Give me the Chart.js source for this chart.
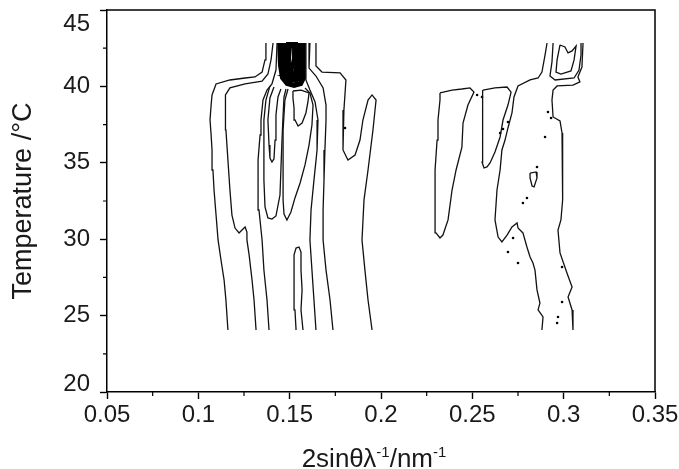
<!DOCTYPE html>
<html>
<head>
<meta charset="utf-8">
<script src="https://cdn.jsdelivr.net/npm/chart.js@4.4.1/dist/chart.umd.min.js"></script>
<style>
html,body{margin:0;padding:0;background:#fff;}
</style>
</head>
<body>
<canvas id="c" width="679" height="469"></canvas>
<script>
// axes
const xTicks = [0.05, 0.1, 0.15, 0.2, 0.25, 0.3, 0.35];
const xTickLabels = ['0.05', '0.1', '0.15', '0.2', '0.25', '0.3', '0.35'];
const xMinor = [0.075, 0.125, 0.175, 0.225, 0.275, 0.325];
const yTicks = [20, 25, 30, 35, 40, 45];
const yTickLabels = ['20', '25', '30', '35', '40', '45'];
const yMinor = [22.5, 27.5, 32.5, 37.5, 42.5];
const xTitle = ['2sinθλ', '-1', '/nm', '-1'];
const yTitle = 'Temperature /°C';

// contour lines, [2sinθ/λ, T]
// left group (peak near 0.15)
const c1L = [[0.1162,24.06],[0.1151,26.02],[0.1141,27.33],[0.1124,28.64],[0.1108,29.95],[0.1097,31.58],[0.1086,33.22],[0.1080,34.53],[0.1075,35.84],[0.1070,36.82],[0.1064,37.80],[0.1070,38.78],[0.1075,39.44],[0.1097,40.16],[0.1173,40.42],[0.1256,40.55],[0.1310,40.62],[0.1349,40.94],[0.1365,41.73],[0.1370,42.84]];
const c1R = [[0.1644,42.84],[0.1644,41.34],[0.1677,40.94],[0.1776,40.88],[0.1808,40.42],[0.1797,38.46],[0.1792,35.84],[0.1819,35.18],[0.1858,35.51],[0.1885,36.49],[0.1901,37.80],[0.1929,39.11],[0.1951,39.44],[0.1973,39.11],[0.1956,37.15],[0.1929,34.53],[0.1907,32.57],[0.1896,29.95],[0.1912,27.98],[0.1929,26.02],[0.1951,24.06]];
const c2L = [[0.1316,24.06],[0.1305,26.02],[0.1294,27.33],[0.1278,28.97],[0.1266,29.95],[0.1266,30.47],[0.1256,30.80],[0.1239,30.60],[0.1223,30.41],[0.1201,30.73],[0.1184,31.58],[0.1173,33.22],[0.1162,35.18],[0.1151,37.15],[0.1146,38.46],[0.1151,39.44],[0.1173,39.90],[0.1256,40.16],[0.1349,40.35],[0.1381,40.81],[0.1398,41.73],[0.1409,42.84]];
const c2R = [[0.1611,42.84],[0.1606,41.20],[0.1644,40.68],[0.1683,39.90],[0.1699,38.78],[0.1699,37.80],[0.1693,35.84],[0.1688,33.87],[0.1683,31.91],[0.1683,29.95],[0.1699,27.98],[0.1721,26.02],[0.1737,24.06]];
const c3L = [[0.1387,24.06],[0.1376,26.02],[0.1359,27.98],[0.1349,29.95],[0.1332,31.91],[0.1327,33.42],[0.1327,35.18],[0.1338,36.82],[0.1343,37.80],[0.1354,39.11],[0.1376,39.76],[0.1403,40.16],[0.1425,41.07],[0.1431,42.84]];
const c3R = [[0.1589,42.84],[0.1589,40.42],[0.1611,39.76],[0.1639,38.98],[0.1655,37.80],[0.1650,35.84],[0.1633,33.87],[0.1617,31.91],[0.1611,29.95],[0.1622,27.98],[0.1633,26.02],[0.1644,24.06]];
const u1 = [[0.1392,40.03],[0.1370,39.11],[0.1359,37.80],[0.1359,35.84],[0.1359,33.87],[0.1365,32.11],[0.1381,31.39],[0.1403,31.32],[0.1425,31.52],[0.1447,32.89],[0.1452,34.53],[0.1458,36.49],[0.1464,38.13],[0.1469,39.31],[0.1480,39.83]];
const nU = [[0.1414,39.96],[0.1392,39.24],[0.1381,37.80],[0.1387,36.16],[0.1392,35.31],[0.1403,35.05],[0.1414,35.25],[0.1420,36.49],[0.1425,38.13],[0.1436,39.31],[0.1452,39.83]];
const u2 = [[0.1491,39.83],[0.1474,39.11],[0.1464,37.15],[0.1464,34.53],[0.1464,32.57],[0.1469,31.65],[0.1485,31.26],[0.1507,31.78],[0.1529,32.70],[0.1557,33.68],[0.1584,34.86],[0.1606,36.16],[0.1622,37.47],[0.1628,38.78],[0.1611,39.57],[0.1584,39.90]];
const loop = [[0.1518,39.70],[0.1562,39.76],[0.1606,39.57],[0.1600,38.98],[0.1589,38.26],[0.1568,37.60],[0.1546,37.41],[0.1529,37.80],[0.1524,38.59],[0.1518,39.24],[0.1518,39.70]];
const spike = [[0.1535,24.06],[0.1529,25.37],[0.1524,26.68],[0.1524,27.98],[0.1524,28.97],[0.1535,29.42],[0.1551,29.49],[0.1562,29.16],[0.1562,27.98],[0.1568,26.68],[0.1562,25.37],[0.1573,24.06]];
// dense rings of the peak
const b1 = [[0.1442,42.84],[0.1447,41.40],[0.1458,40.55],[0.1485,40.16],[0.1524,40.03],[0.1562,40.16],[0.1578,40.55],[0.1578,41.73],[0.1578,42.84]];
const b2 = [[0.1452,42.84],[0.1458,41.40],[0.1469,40.68],[0.1496,40.22],[0.1529,40.09],[0.1557,40.22],[0.1568,40.68],[0.1568,42.84]];
const b3 = [[0.1464,42.84],[0.1469,41.53],[0.1480,40.81],[0.1502,40.42],[0.1535,40.35],[0.1551,40.55],[0.1557,41.20],[0.1557,42.84]];
const b4 = [[0.1469,42.84],[0.1474,41.60],[0.1485,40.94],[0.1507,40.62],[0.1535,40.62],[0.1546,41.07],[0.1546,42.84]];
const b5 = [[0.1480,42.77],[0.1535,42.77],[0.1535,41.20],[0.1524,40.75],[0.1502,40.75],[0.1485,41.20],[0.1480,42.05],[0.1480,42.77]];
const b6 = [[0.1502,42.64],[0.1529,42.64],[0.1524,41.86],[0.1507,40.88],[0.1491,40.81],[0.1496,41.73],[0.1502,42.64]];
// right group (peak near 0.30)
const R1 = [[0.2323,39.57],[0.2389,39.76],[0.2443,39.83],[0.2487,39.90],[0.2509,39.63],[0.2476,38.78],[0.2449,37.60],[0.2443,36.03],[0.2411,34.53],[0.2389,33.22],[0.2367,31.26],[0.2339,30.27],[0.2323,30.08],[0.2301,30.41],[0.2296,32.57],[0.2296,34.53],[0.2307,36.49],[0.2312,37.80],[0.2323,39.11],[0.2323,39.57]];
const R2 = [[0.2558,39.76],[0.2624,39.90],[0.2690,39.96],[0.2712,39.63],[0.2695,38.78],[0.2668,37.80],[0.2652,36.69],[0.2624,35.71],[0.2597,34.99],[0.2580,34.73],[0.2564,34.66],[0.2553,35.05],[0.2553,36.49],[0.2558,38.26],[0.2558,39.76]];
const R3L = [[0.2881,24.06],[0.2887,24.91],[0.2860,25.37],[0.2870,25.82],[0.2854,26.68],[0.2843,27.98],[0.2832,28.44],[0.2816,28.84],[0.2799,29.49],[0.2777,30.41],[0.2761,30.60],[0.2750,30.73],[0.2745,31.06],[0.2717,30.80],[0.2690,30.27],[0.2662,29.82],[0.2641,30.14],[0.2624,31.26],[0.2635,33.22],[0.2652,34.53],[0.2662,35.84],[0.2679,36.49],[0.2695,37.28],[0.2717,38.26],[0.2728,39.31],[0.2750,40.03],[0.2816,40.42],[0.2860,40.55],[0.2881,40.94],[0.2898,42.05],[0.2909,42.84]];
const R3R = [[0.3106,42.84],[0.3100,41.27],[0.3078,40.62],[0.3089,40.29],[0.3051,40.09],[0.2964,40.03],[0.2942,39.76],[0.2936,39.11],[0.2942,38.00],[0.2980,37.74],[0.2991,36.95],[0.2996,35.84],[0.2991,34.53],[0.2996,32.57],[0.2985,31.26],[0.2969,30.60],[0.2980,29.10],[0.3018,27.79],[0.3046,26.87],[0.3024,26.22],[0.3046,25.37],[0.3051,24.06]];
const R4 = [[0.2942,42.84],[0.2936,41.60],[0.2925,40.68],[0.2953,40.42],[0.3057,40.55],[0.3084,41.07],[0.3095,42.05],[0.3095,42.84]];
const R5 = [[0.2980,42.71],[0.2964,41.73],[0.2958,40.94],[0.2985,40.81],[0.3040,41.01],[0.3057,41.73],[0.3068,42.64],[0.3046,42.32],[0.3024,42.19],[0.3007,42.58],[0.2980,42.71]];
const drop = [[0.2816,34.33],[0.2849,34.40],[0.2854,34.01],[0.2838,33.42],[0.2827,33.48],[0.2816,34.01],[0.2816,34.33]];
const dots = [[0.2526,39.44],[0.2553,39.31],[0.2668,37.21],[0.2695,37.67],[0.2652,36.95],[0.2914,38.32],[0.2931,37.93],[0.2898,36.69],[0.2854,34.73],[0.2777,32.37],[0.2799,32.70],[0.2723,30.08],[0.2695,29.16],[0.2750,28.44],[0.2991,28.18],[0.2991,25.89],[0.2969,24.91],[0.2964,24.52],[0.1803,37.28]];

const lineSets = [c1L, c1R, c2L, c2R, c3L, c3R, u1, nU, u2, loop, spike, R1, R2, R3L, R3R, R4, R5, drop];
const peakSets = [b1, b2, b3, b4, b5, b6];
const FONT = '"Liberation Sans", Arial, sans-serif';
const INK = '#1a1a1a';

const toXY = a => a.map(p => ({x: p[0], y: p[1]}));

const datasets = lineSets.map(a => ({
  data: toXY(a), showLine: true, borderColor: '#111', borderWidth: 1.3,
  pointRadius: 0, tension: 0, fill: false
})).concat(peakSets.map(a => ({
  data: toXY(a), showLine: true, borderColor: '#000', borderWidth: 4,
  pointRadius: 0, tension: 0, fill: false
}))).concat([{
  data: toXY(dots), showLine: false, pointRadius: 1.3,
  backgroundColor: '#000', borderWidth: 0
}]);

const frame = {
  id: 'frame',
  afterDraw(chart) {
    const {ctx, chartArea: a, scales: {x, y}} = chart;
    ctx.save();
    ctx.strokeStyle = '#000';
    ctx.lineWidth = 1.5;
    ctx.beginPath();
    ctx.moveTo(a.left, a.top);
    ctx.lineTo(a.right, a.top);
    ctx.lineTo(a.right, a.bottom);
    ctx.stroke();
    // minor ticks
    ctx.lineWidth = 1.2;
    ctx.beginPath();
    xMinor.forEach(v => {
      const px = x.getPixelForValue(v);
      ctx.moveTo(px, a.bottom);
      ctx.lineTo(px, a.bottom + 4);
    });
    yMinor.forEach(v => {
      const py = y.getPixelForValue(v);
      ctx.moveTo(a.left, py);
      ctx.lineTo(a.left - 4, py);
    });
    ctx.stroke();
    // y tick labels, end ones kept inside the frame
    ctx.fillStyle = INK;
    ctx.font = '24px ' + FONT;
    ctx.textAlign = 'right';
    ctx.textBaseline = 'middle';
    yTicks.forEach((v, i) => {
      let py = y.getPixelForValue(v);
      py = Math.min(Math.max(py, a.top + 14), a.bottom - 8);
      ctx.fillText(yTickLabels[i], a.left - 17, py);
    });
    // x title with small exponents
    ctx.textAlign = 'left';
    ctx.textBaseline = 'alphabetic';
    const big = '26px ' + FONT, small = '15px ' + FONT;
    let w = 0;
    xTitle.forEach((t, i) => { ctx.font = i % 2 ? small : big; w += ctx.measureText(t).width; });
    let cx = (a.left + a.right) / 2 - 7 - w / 2;
    xTitle.forEach((t, i) => {
      ctx.font = i % 2 ? small : big;
      ctx.fillText(t, cx, i % 2 ? 457 : 467);
      cx += ctx.measureText(t).width;
    });
    ctx.restore();
  }
};

new Chart(document.getElementById('c'), {
  type: 'scatter',
  data: {datasets: datasets},
  options: {
    responsive: false,
    animation: false,
    layout: {padding: {top: 10, right: 24, bottom: 0, left: 0}},
    plugins: {legend: {display: false}, tooltip: {enabled: false}},
    scales: {
      x: {
        type: 'linear', min: 0.05, max: 0.35,
        afterBuildTicks: s => { s.ticks = xTicks.map(v => ({value: v})); },
        afterFit: s => { s.height = 77; s.paddingLeft = 0; s.paddingRight = 0; },
        ticks: {
          callback: (v, i) => xTickLabels[i], color: INK,
          font: {family: FONT, size: 24}, padding: 2, maxRotation: 0, autoSkip: false
        },
        grid: {display: true, drawOnChartArea: false, drawTicks: true, tickLength: 7, tickColor: '#000', tickWidth: 1.4},
        border: {display: true, color: '#000', width: 1.5}
      },
      y: {
        type: 'linear', min: 20, max: 45,
        afterBuildTicks: s => { s.ticks = yTicks.map(v => ({value: v})); },
        afterFit: s => { s.width = 107; s.paddingTop = 0; s.paddingBottom = 0; },
        ticks: {display: false},
        grid: {display: true, drawOnChartArea: false, drawTicks: true, tickLength: 7, tickColor: '#000', tickWidth: 1.4},
        border: {display: true, color: '#000', width: 1.5},
        title: {display: true, text: yTitle, color: INK, font: {family: FONT, size: 27}, padding: {top: 7, bottom: 0}}
      }
    }
  },
  plugins: [frame]
});
</script>
</body>
</html>
